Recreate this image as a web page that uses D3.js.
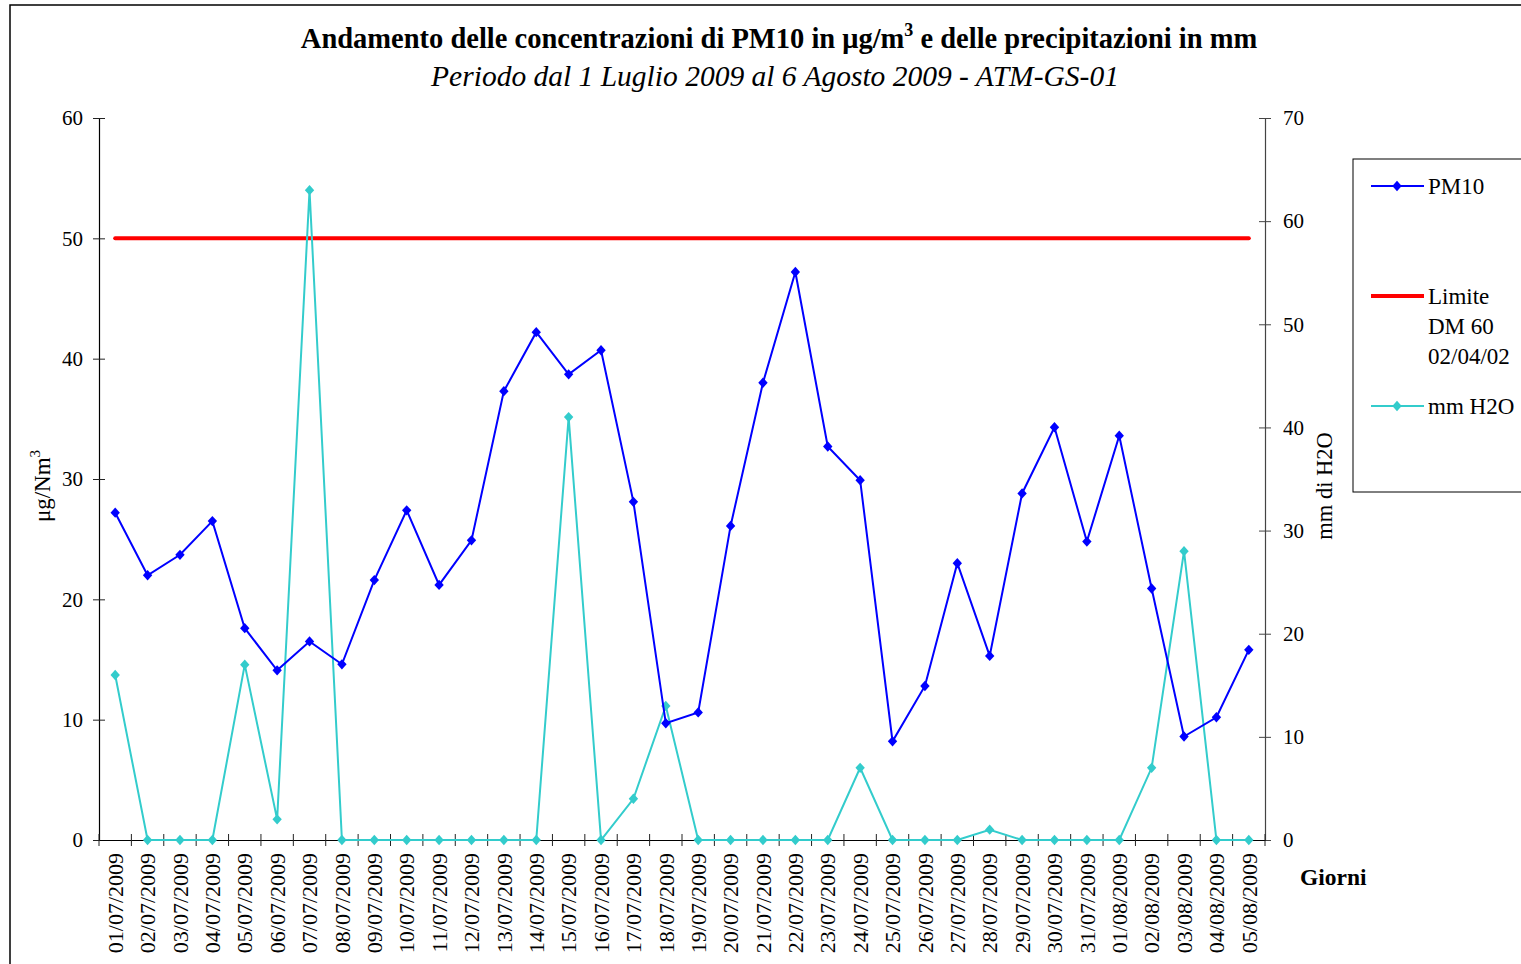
<!DOCTYPE html>
<html><head><meta charset="utf-8">
<script src="https://cdn.jsdelivr.net/npm/d3@7"></script>
<style>
body{margin:0;background:#fff;}
text{font-family:"Liberation Serif","Times New Roman",serif;fill:#000;}
</style></head>
<body><svg id="c" width="1521" height="964"></svg>
<script>
const dates = ["01/07/2009","02/07/2009","03/07/2009","04/07/2009","05/07/2009","06/07/2009","07/07/2009","08/07/2009","09/07/2009","10/07/2009","11/07/2009","12/07/2009","13/07/2009","14/07/2009","15/07/2009","16/07/2009","17/07/2009","18/07/2009","19/07/2009","20/07/2009","21/07/2009","22/07/2009","23/07/2009","24/07/2009","25/07/2009","26/07/2009","27/07/2009","28/07/2009","29/07/2009","30/07/2009","31/07/2009","01/08/2009","02/08/2009","03/08/2009","04/08/2009","05/08/2009"];
const pm10 = [27.2,22.0,23.7,26.5,17.6,14.1,16.5,14.6,21.6,27.4,21.2,24.9,37.3,42.2,38.7,40.7,28.1,9.7,10.6,26.1,38.0,47.2,32.7,29.9,8.2,12.8,23.0,15.3,28.8,34.3,24.8,33.6,20.9,8.6,10.2,15.8];
const rain = [16,0,0,0,17,2,63,0,0,0,0,0,0,0,41,0,4,13,0,0,0,0,0,7,0,0,0,1,0,0,0,0,7,28,0,0];
const limite = 50;
const leftTicks = [0,10,20,30,40,50,60];
const rightTicks = [0,10,20,30,40,50,60,70];
const legendItems = [
  {name:["PM10"], color:"#0000FF", marker:true, w:2},
  {name:["Limite","DM 60","02/04/02"], color:"#FF0000", marker:false, w:4},
  {name:["mm H2O"], color:"#33CCCC", marker:true, w:2}
];

const svg = d3.select("#c");
svg.append("rect").attr("width",1521).attr("height",964).attr("fill","#fff");
// outer border
svg.append("path").attr("d","M10,964 L10,5 L1521,5").attr("fill","none").attr("stroke","#000").attr("stroke-width",1.5);

const L=99, R=1265, T=118, B=840;
const x = d3.scaleBand().domain(dates).range([L,R]).padding(0);
const cx = d => x(d)+x.bandwidth()/2;
const yL = d3.scaleLinear().domain([0,60]).range([B,T]);
const yR = d3.scaleLinear().domain([0,70]).range([B,T]);

// Title
const title = svg.append("text").attr("x",779).attr("y",48).attr("text-anchor","middle")
  .style("font-weight","bold").style("font-size","28.5px");
title.append("tspan").text("Andamento delle concentrazioni di PM10 in μg/m");
title.append("tspan").attr("dy","-12").style("font-size","18px").text("3");
title.append("tspan").attr("dy","12").text(" e delle precipitazioni in mm");
svg.append("text").attr("x",775).attr("y",86).attr("text-anchor","middle")
  .style("font-style","italic").style("font-size","29.5px")
  .text("Periodo dal 1 Luglio 2009 al 6 Agosto 2009 - ATM-GS-01");

// Left axis
const gL = svg.append("g").attr("transform",`translate(${L},0)`)
  .call(d3.axisLeft(yL).tickValues(leftTicks).tickSize(6).tickPadding(10).tickFormat(d3.format("d")));
gL.selectAll(".tick line").attr("x2",-6).attr("x1",6).attr("stroke","#222");
gL.select(".domain").attr("stroke","#000").attr("stroke-width",1.2);
gL.selectAll("text").style("font-size","21px").style("font-family","Liberation Serif");

// Right axis
const gR = svg.append("g").attr("transform",`translate(${R},0)`)
  .call(d3.axisRight(yR).tickValues(rightTicks).tickSize(6).tickPadding(12).tickFormat(d3.format("d")));
gR.selectAll(".tick line").attr("x1",-6).attr("x2",6).attr("stroke","#444");
gR.select(".domain").attr("stroke","#444").attr("stroke-width",1.2);
gR.selectAll("text").style("font-size","21px").style("font-family","Liberation Serif");

// X axis
const gX = svg.append("g").attr("transform",`translate(0,${B})`)
  .call(d3.axisBottom(x).tickSize(0).tickPadding(0));
gX.select(".domain").attr("stroke","#000").attr("stroke-width",1.2);
gX.selectAll(".tick text").attr("transform","translate(0,13) rotate(-90)")
  .attr("text-anchor","end").attr("dy","0.35em").attr("y",0).attr("x",0)
  .style("font-size","22px").style("font-family","Liberation Serif");
const bounds = dates.map(d=>x(d)).concat([R]);
gX.selectAll("line.bt").data(bounds).enter().append("line").attr("class","bt")
  .attr("x1",d=>d).attr("x2",d=>d).attr("y1",-6).attr("y2",6).attr("stroke","#222");

// axis titles
const yt = svg.append("text").attr("transform","translate(50,486) rotate(-90)").attr("text-anchor","middle").style("font-size","23px");
yt.append("tspan").text("μg/Nm");
yt.append("tspan").attr("dy","-10").style("font-size","15px").text("3");
svg.append("text").attr("transform","translate(1332,486) rotate(-90)").attr("text-anchor","middle").style("font-size","22.5px").text("mm di H2O");
svg.append("text").attr("x",1300).attr("y",885).style("font-weight","bold").style("font-size","23.5px").text("Giorni");

// limit line
svg.append("line").attr("x1",cx(dates[0])).attr("x2",cx(dates[dates.length-1]))
  .attr("y1",yL(limite)).attr("y2",yL(limite)).attr("stroke","#FF0000").attr("stroke-width",4).attr("stroke-linecap","round");

const diamond = d3.symbol().type(d3.symbolDiamond2).size(56);
const mk = (px,py) => `translate(${px},${py}) scale(1,1.1)`;

// rain series
const rainG = svg.append("g");
rainG.append("path").datum(rain).attr("fill","none").attr("stroke","#33CCCC").attr("stroke-width",2)
  .attr("d",d3.line().x((d,i)=>cx(dates[i])).y(d=>yR(d)));
rainG.selectAll("path.m").data(rain).enter().append("path").attr("class","m")
  .attr("d",diamond).attr("fill","#33CCCC")
  .attr("transform",(d,i)=>mk(cx(dates[i]),yR(d)));

// pm10 series
const pmG = svg.append("g");
pmG.append("path").datum(pm10).attr("fill","none").attr("stroke","#0000FF").attr("stroke-width",2)
  .attr("d",d3.line().x((d,i)=>cx(dates[i])).y(d=>yL(d)));
pmG.selectAll("path.m").data(pm10).enter().append("path").attr("class","m")
  .attr("d",diamond).attr("fill","#0000FF")
  .attr("transform",(d,i)=>mk(cx(dates[i]),yL(d)));

// legend
svg.append("rect").attr("x",1353).attr("y",159).attr("width",200).attr("height",333)
  .attr("fill","#fff").attr("stroke","#000").attr("stroke-width",1);
const ly = [186, 296, 406];
legendItems.forEach((it,i)=>{
  const g = svg.append("g").attr("transform",`translate(0,${ly[i]})`);
  g.append("line").attr("x1",1371).attr("x2",1424).attr("y1",0).attr("y2",0)
    .attr("stroke",it.color).attr("stroke-width",it.w);
  if(it.marker) g.append("path").attr("d",diamond).attr("fill",it.color).attr("transform",mk(1397,0));
  it.name.forEach((t,j)=>{
    g.append("text").attr("x",1428).attr("y",j*30).attr("dy","0.35em").style("font-size","23px").text(t);
  });
});
</script></body></html>
